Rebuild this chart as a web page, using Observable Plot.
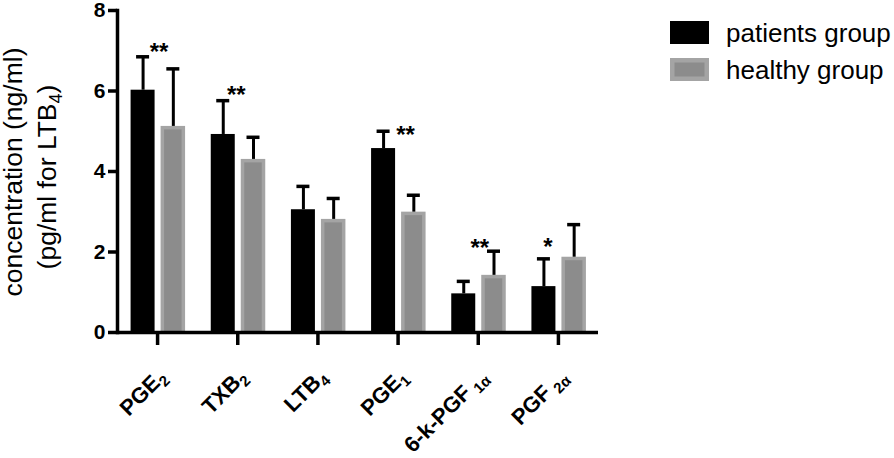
<!DOCTYPE html>
<html>
<head>
<meta charset="utf-8">
<script src="https://cdn.jsdelivr.net/npm/d3@7"></script>
<script src="https://cdn.jsdelivr.net/npm/@observablehq/plot@0.6"></script>
<style>
  html, body { margin: 0; padding: 0; background: #fff; }
  #chart { position: relative; width: 894px; height: 458px; }
  #chart svg { display: block; }
  .xlab {
    position: absolute; white-space: nowrap;
    font-family: 'Liberation Sans', Arial, Helvetica, sans-serif;
    font-size: 22px; font-weight: bold; line-height: 22px; color: #000;
    transform-origin: 100% 18.6px; transform: rotate(-45deg);
  }
  .xlab .sub { font-size: 15px; position: relative; top: 5px; }
</style>
</head>
<body>
<div id="chart"></div>
<script>
// ---- data ----
const labelBase = ["PGE", "TXB", "LTB", "PGE", "6-k-PGF", "PGF"];
const labelSub  = ["2", "2", "4", "1", "1α", "2α"];
const categories = labelBase.map((b, i) => b + labelSub[i]);

const patientsMean = [6.02, 4.92, 3.05, 4.57, 0.96, 1.14];
const patientsSD   = [0.83, 0.84, 0.58, 0.43, 0.31, 0.69];
const healthyMean  = [5.12, 4.30, 2.81, 2.99, 1.42, 1.87];
const healthySD    = [1.43, 0.55, 0.52, 0.42, 0.60, 0.81];

const sigCats   = ["PGE2", "TXB2", "PGE1", "6-k-PGF1α", "PGF2α"];
const sigLabels = ["**", "**", "**", "**", "*"];
const sigY      = [7.07, 6.01, 5.02, 2.21, 2.24];

const yTicks = [0, 2, 4, 6, 8];
const seriesNames = ["patients group", "healthy group"];

// ---- build tables ----
const patients = categories.map((c, i) => ({cat: c, mean: patientsMean[i], sd: patientsSD[i]}));
const healthy  = categories.map((c, i) => ({cat: c, mean: healthyMean[i], sd: healthySD[i]}));
const sigDx = {"PGE2": 2, "TXB2": -1, "PGE1": 8, "6-k-PGF1α": 2, "PGF2α": -10};

const W = 894, H = 458;
const mL = 117, mR = 296, mT = 10, mB = 126;
const bw = (W - mL - mR) / categories.length;
const half = bw / 2;
const FONT = "'Liberation Sans', Arial, Helvetica, sans-serif";
const lightGray = "#a4a4a4", darkGray = "#8c8c8c";

const chart = Plot.plot({
  width: W, height: H,
  marginLeft: mL, marginRight: mR, marginTop: mT, marginBottom: mB,
  style: {fontFamily: FONT, background: "#fff", color: "#000"},
  x: {domain: categories, padding: 0, axis: null, round: false},
  y: {domain: [0, 8], axis: null},
  marks: [
    Plot.barY(patients, {x: "cat", y: "mean", fill: "#000",
      insetLeft: half - 26.5, insetRight: half + 2.5}),
    Plot.barY(healthy, {x: "cat", y: "mean", fill: lightGray,
      insetLeft: half + 3.5, insetRight: half - 28}),
    Plot.barY(healthy, {x: "cat", y: "mean", fill: darkGray,
      insetLeft: half + 7, insetRight: half - 24.5, insetTop: 3.5}),
    Plot.ruleX(patients, {x: "cat", y1: "mean", y2: d => d.mean + d.sd, dx: -14.5, stroke: "#000", strokeWidth: 3}),
    Plot.tickY(patients, {x: "cat", y: d => d.mean + d.sd, stroke: "#000", strokeWidth: 3.5,
      insetLeft: half - 14.5 - 6.5, insetRight: half + 14.5 - 6.5}),
    Plot.ruleX(healthy, {x: "cat", y1: "mean", y2: d => d.mean + d.sd, dx: 15.75, stroke: "#000", strokeWidth: 3}),
    Plot.tickY(healthy, {x: "cat", y: d => d.mean + d.sd, stroke: "#000", strokeWidth: 3.5,
      insetLeft: half + 15.75 - 6.5, insetRight: half - 15.75 - 6.5}),
    Plot.ruleY([0], {stroke: "#000", strokeWidth: 3.5}),
    Plot.frame({anchor: "left", stroke: "#000", strokeWidth: 3.5}),
    Plot.axisY({ticks: yTicks, tickSize: 9, tickPadding: 3, strokeWidth: 3.5, label: null,
      fontSize: 21, fontWeight: "bold", tickFormat: d3.format("d")}),
    Plot.axisX({tickSize: 13, strokeWidth: 3.5, label: null, tickFormat: () => ""})
  ]
});

const host = document.getElementById("chart");
host.appendChild(chart);
const svg = d3.select(chart);
const xs = chart.scale("x"), ys = chart.scale("y");
const xc = c => xs.apply(c) + xs.bandwidth / 2;

// x tick labels: rotated HTML overlay positioned from the Plot scales
categories.forEach((c, i) => {
  const ax = xc(c) + 11, ay = ys.apply(0) + 47;
  const div = d3.select(host).append("div").attr("class", "xlab")
    .style("right", (W - ax) + "px")
    .style("top", (ay - 18.6) + "px");
  div.append("span").text(labelBase[i]);
  const sub = labelSub[i];
  div.append("span").attr("class", "sub")
    .style("margin-left", sub.length > 1 ? "5px" : "0px")
    .text(sub);
});

// significance stars
const st = svg.append("g")
  .attr("font-family", FONT).attr("font-size", 24).attr("font-weight", "bold")
  .attr("fill", "#000").attr("text-anchor", "middle");
sigCats.forEach((c, i) => {
  st.append("text")
    .attr("x", xc(c) + (sigDx[c] || 0))
    .attr("y", ys.apply(sigY[i]) + 13)
    .text(sigLabels[i]);
});

// y axis title (two lines, rotated)
const title = svg.append("g")
  .attr("font-family", FONT).attr("font-size", 26.5)
  .attr("fill", "#000").attr("text-anchor", "middle");
title.append("text")
  .attr("transform", "translate(22,172) rotate(-90)")
  .text("concentration (ng/ml)");
const t2 = title.append("text")
  .attr("transform", "translate(56,177) rotate(-90)");
t2.append("tspan").text("(pg/ml for LTB");
t2.append("tspan").attr("font-size", 18).attr("dy", 6).text("4");
t2.append("tspan").attr("dy", -6).text(")");

// legend
const lg = svg.append("g").attr("font-family", FONT).attr("font-size", 26).attr("text-anchor", "start");
lg.append("rect").attr("x", 670).attr("y", 21).attr("width", 39).attr("height", 23).attr("fill", "#000");
lg.append("rect").attr("x", 670).attr("y", 58).attr("width", 39).attr("height", 23).attr("fill", lightGray);
lg.append("rect").attr("x", 674.5).attr("y", 62.5).attr("width", 30).attr("height", 14).attr("fill", darkGray);
lg.append("text").attr("x", 726).attr("y", 41.5).attr("fill", "#000").text(seriesNames[0]);
lg.append("text").attr("x", 726).attr("y", 78.5).attr("fill", "#000").text(seriesNames[1]);
</script>
</body>
</html>
